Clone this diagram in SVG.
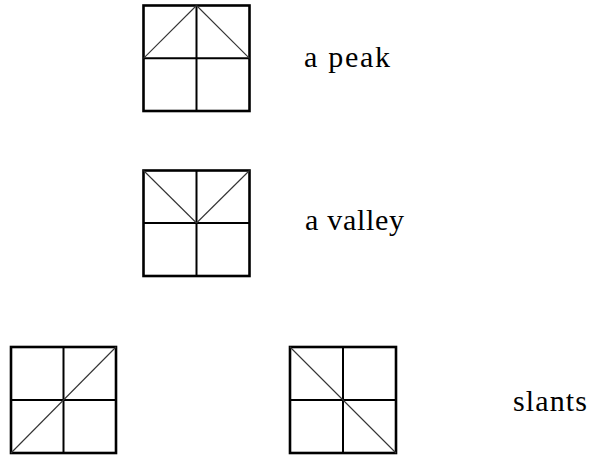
<svg xmlns="http://www.w3.org/2000/svg" width="591" height="455" viewBox="0 0 591 455">
<style>
.frame{fill:none;stroke:#000;stroke-width:2.6}
.grid{stroke:#000;stroke-width:2}
.diag{stroke:#333;stroke-width:1.1}
.lbl{font-size:30px;fill:#000}
</style>
<rect width="591" height="455" fill="#fff"/>
<g id="peak">
<rect class="frame" x="143.5" y="5.5" width="106" height="105.5"/>
<line class="grid" x1="196.5" y1="5.5" x2="196.5" y2="111"/>
<line class="grid" x1="143.5" y1="58.3" x2="249.5" y2="58.3"/>
<line class="diag" x1="143.5" y1="58.3" x2="196.5" y2="5.5"/>
<line class="diag" x1="196.5" y1="5.5" x2="249.5" y2="58.3"/>
</g>
<g id="valley">
<rect class="frame" x="143.5" y="170.5" width="106" height="105.5"/>
<line class="grid" x1="196.5" y1="170.5" x2="196.5" y2="276"/>
<line class="grid" x1="143.5" y1="223" x2="249.5" y2="223"/>
<line class="diag" x1="143.5" y1="170.5" x2="196.5" y2="223"/>
<line class="diag" x1="196.5" y1="223" x2="249.5" y2="170.5"/>
</g>
<g id="slant1">
<rect class="frame" x="11" y="347" width="105" height="106"/>
<line class="grid" x1="63.5" y1="347" x2="63.5" y2="453"/>
<line class="grid" x1="11" y1="400" x2="116" y2="400"/>
<line class="diag" x1="11" y1="453" x2="116" y2="347"/>
</g>
<g id="slant2">
<rect class="frame" x="290" y="347" width="106" height="106"/>
<line class="grid" x1="343" y1="347" x2="343" y2="453"/>
<line class="grid" x1="290" y1="400" x2="396" y2="400"/>
<line class="diag" x1="290" y1="347" x2="396" y2="453"/>
</g>
<g id="labels" font-family="'Liberation Serif', serif">
<text class="lbl" x="304" y="67" textLength="86" lengthAdjust="spacing">a peak</text>
<text class="lbl" x="305" y="230" textLength="99" lengthAdjust="spacing">a valley</text>
<text class="lbl" x="513" y="411" textLength="74" lengthAdjust="spacing">slants</text>
</g>
</svg>
